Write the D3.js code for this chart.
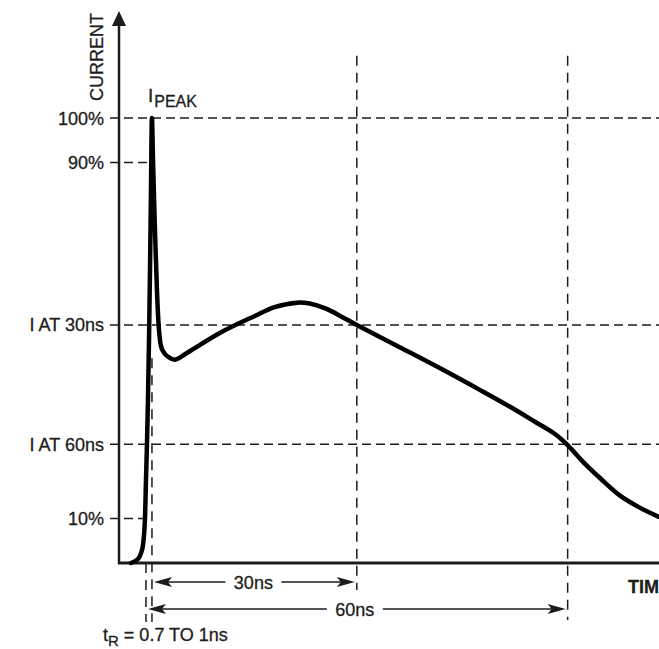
<!DOCTYPE html>
<html>
<head>
<meta charset="utf-8">
<script src="https://cdn.jsdelivr.net/npm/d3@7"></script>
<style>
  html, body { margin: 0; padding: 0; background: #fff; }
  svg { display: block; }
  text { font-family: "Liberation Sans", Arial, sans-serif; fill: #1c1c1c; stroke: #1c1c1c; stroke-width: 0.3; }
</style>
</head>
<body>
<svg id="chart" width="659" height="649"></svg>
<script>
// pulse waveform, time in ns vs current in % of peak
const timeNs = [-2.13, -1.14, -0.57, -0.28, -0.14, 0, 0.14, 0.28, 0.43, 0.57, 0.71, 0.85,
  1.0, 1.28, 1.56, 1.85, 2.13, 2.42, 2.99, 4.12, 5.83, 10.5, 15.2, 18.3, 21.5, 23.3,
  25.7, 27.9, 30.0, 36.1, 41.8, 47.5, 51.8, 55.3, 58.2, 60.0, 62.4, 64.6, 67.4, 70.2, 72.9];
const currentPct = [0, 0.9, 2.9, 6.3, 10.3, 18.7, 26.7, 36.6, 50.1, 65.8, 83.8, 100,
  90.6, 74.8, 61.3, 52.4, 48.8, 47.6, 46.5, 45.7, 47.2, 51.7, 55.3, 57.5, 58.5, 58.3,
  57.1, 55.3, 53.5, 48.5, 43.8, 38.9, 35.1, 31.8, 29.0, 26.5, 22.4, 19.1, 15.2, 12.5, 10.4];

const levelLabels = ['100%', '90%', 'I AT 30ns', 'I AT 60ns', '10%'];
const levelValues = [100, 90, 53.5, 26.7, 10];
const levelEnds = [null, 0.85, null, null, -0.14];   // where the dashed level stops (ns), null = full width

const tR = [0, 0.85];
const spans = [{ label: '30ns', from: 0.85, to: 30 }, { label: '60ns', from: 0, to: 60 }];

const svg = d3.select('#chart');
const W = 659;
const axisX = 119, axisY = 563;

const x = d3.scaleLinear().domain([-3.84, 73]).range([axisX, W]);
const y = d3.scaleLinear().domain([0, 100]).range([axisY, 118]);

const ink = '#1c1c1c';

// horizontal dashed levels
levelValues.forEach((v, i) => {
  const end = levelEnds[i] == null ? W : x(levelEnds[i]);
  svg.append('line')
    .attr('x1', 110).attr('x2', end)
    .attr('y1', y(v)).attr('y2', y(v))
    .attr('stroke', ink).attr('stroke-width', 1.5)
    .attr('stroke-dasharray', '9,5');
  svg.append('text')
    .attr('x', 104).attr('y', y(v) + 6.5)
    .attr('text-anchor', 'end')
    .attr('font-size', 18)
    .text(levelLabels[i]);
});

// vertical dashed markers
const vMarks = [
  { t: 30, top: 114, bottom: 590 },
  { t: 60, top: 114, bottom: 620 },
  { t: tR[1], top: 46, bottom: 622 },
  { t: tR[0], top: 0, bottom: 622 }
];
vMarks.forEach(m => {
  svg.append('line')
    .attr('x1', x(m.t)).attr('x2', x(m.t))
    .attr('y1', m.top > 0 ? y(m.top) : axisY).attr('y2', m.bottom)
    .attr('stroke', ink).attr('stroke-width', 1.5)
    .attr('stroke-dasharray', '10,7');
});

// axes
svg.append('line').attr('x1', axisX).attr('x2', axisX).attr('y1', 22).attr('y2', axisY + 1)
  .attr('stroke', ink).attr('stroke-width', 2.5);
svg.append('line').attr('x1', axisX - 1).attr('x2', W).attr('y1', axisY).attr('y2', axisY)
  .attr('stroke', ink).attr('stroke-width', 3);
svg.append('path').attr('d', `M${axisX},11 L${axisX - 7},26 L${axisX + 7},26 Z`).attr('fill', ink);

svg.append('text')
  .attr('transform', `translate(103,57) rotate(-90)`)
  .attr('text-anchor', 'middle')
  .attr('font-size', 18)
  .text('CURRENT');

svg.append('text')
  .attr('x', 628).attr('y', 593)
  .attr('font-size', 18).attr('font-weight', 'bold')
  .text('TIME');

// waveform
const line = d3.line()
  .x((d, i) => x(timeNs[i]))
  .y(d => y(d))
  .curve(d3.curveCatmullRom.alpha(0.5));
svg.append('path')
  .datum(currentPct)
  .attr('d', line)
  .attr('fill', 'none')
  .attr('stroke', '#000')
  .attr('stroke-width', 4.5)
  .attr('stroke-linejoin', 'round')
  .attr('stroke-linecap', 'round');

// I PEAK label
const peak = svg.append('text').attr('x', x(0.85) - 4).attr('y', 102).attr('font-size', 19);
peak.append('tspan').text('I');
peak.append('tspan').attr('font-size', 16).attr('dy', 5).attr('dx', 1).text('PEAK');

// dimension arrows
function arrowHead(px, py, dir) {
  const L = 18, H = 5;
  svg.append('path')
    .attr('d', `M${px},${py} L${px - dir * L},${py - H} L${px - dir * (L - 4)},${py} L${px - dir * L},${py + H} Z`)
    .attr('fill', ink);
}
const spanY = [582, 609];
spans.forEach((s, i) => {
  const x1 = x(s.from) + 2, x2 = x(s.to) - 2, yy = spanY[i];
  svg.append('line').attr('x1', x1 + 8).attr('x2', x2 - 8).attr('y1', yy).attr('y2', yy)
    .attr('stroke', ink).attr('stroke-width', 1.5);
  arrowHead(x1, yy, -1);
  arrowHead(x2, yy, 1);
  const cx = (x(s.from) + x(s.to)) / 2 + (i === 0 ? -1 : -2);
  svg.append('rect').attr('x', cx - 28).attr('y', yy - 10).attr('width', 56).attr('height', 20).attr('fill', '#fff');
  svg.append('text').attr('x', cx).attr('y', yy + 6.5)
    .attr('text-anchor', 'middle').attr('font-size', 18).text(s.label);
});

// rise time note
const note = svg.append('text').attr('x', 103).attr('y', 641).attr('font-size', 18);
note.append('tspan').text('t');
note.append('tspan').attr('font-size', 15).attr('dy', 5).text('R');
note.append('tspan').attr('dy', -5).text(' = 0.7 TO 1ns');
</script>
</body>
</html>
